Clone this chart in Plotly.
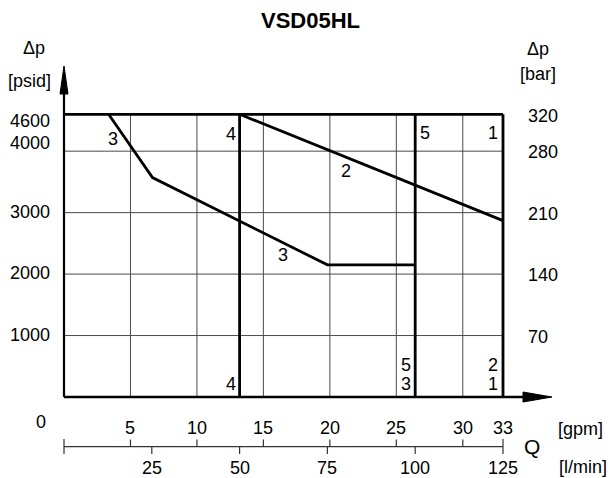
import plotly.graph_objects as go

# ---------------- data ----------------
GPM_TO_LPM = 3.785
q_max_lpm = 125
p_max_psi = 4600
gpm_grid = [5, 10, 15, 20, 25, 30]
gpm_ticks = [5, 10, 15, 20, 25, 30, 33]
lpm_ticks = [25, 50, 75, 100, 125]
psi_grid = [1000, 2000, 3000, 4000]
psi_ticks = [1000, 2000, 3000, 4000, 4600]
bar_ticks = [70, 140, 210, 280, 320]
curve2_q = [50, 125]
curve2_p = [4600, 2870]
curve3_q = [12.7, 25.2, 75, 100]
curve3_p = [4600, 3570, 2150, 2150]
limit_q = [50, 100, 125]          # lines 4, 5, 1

# ---------------- layout geometry ----------------
W, H = 613, 478
X0_PX, X1_PX = 64, 503
Y0_PX, Y1_PX = 397, 114.3
sx = (X1_PX - X0_PX) / q_max_lpm
sy = (Y0_PX - Y1_PX) / p_max_psi
xr = [-X0_PX / sx, (W - X0_PX) / sx]
yr = [-(H - Y0_PX) / sy, Y0_PX / sy]


def X(px):
    return (px - X0_PX) / sx


def Y(py):
    return (Y0_PX - py) / sy


FONT = "Liberation Sans, Arial, sans-serif"
FS = 18
THIN = dict(color="#4a4a4a", width=1)
THICK = dict(color="black", width=2.8)

fig = go.Figure()


def seg(xs, ys, line):
    fig.add_trace(go.Scatter(x=xs, y=ys, mode="lines", line=line,
                             hoverinfo="skip", showlegend=False))


# thin grid
gx, gy = [], []
for g in gpm_grid:
    q = g * GPM_TO_LPM
    gx += [q, q, None]
    gy += [0, p_max_psi, None]
for p in psi_grid:
    gx += [0, q_max_lpm, None]
    gy += [p, p, None]
seg(gx, gy, THIN)

# frame lines
seg([0, q_max_lpm], [p_max_psi, p_max_psi], THICK)
for q in limit_q:
    seg([q, q], [0, p_max_psi], THICK)
# axes
seg([0, 0], [0, Y(90)], dict(color="black", width=2.2))
seg([0, X(528)], [0, 0], dict(color="black", width=2.6))
# arrow heads
fig.add_trace(go.Scatter(x=[X(60), X(64), X(68), X(60)], y=[Y(94), Y(66), Y(94), Y(94)],
                         mode="lines", fill="toself", fillcolor="black",
                         line=dict(color="black", width=1), hoverinfo="skip", showlegend=False))
fig.add_trace(go.Scatter(x=[X(523), X(552), X(523), X(523)], y=[Y(392), Y(397), Y(402), Y(392)],
                         mode="lines", fill="toself", fillcolor="black",
                         line=dict(color="black", width=1), hoverinfo="skip", showlegend=False))

# curves
seg(curve2_q, curve2_p, THICK)
seg(curve3_q, curve3_p, THICK)

# secondary Q axis (l/min) with gpm ticks above, l/min ticks below
ya = Y(446.7)
AX = dict(color="#333333", width=1.2)
seg([0, q_max_lpm], [ya, ya], AX)
tx, ty = [], []
for q in [0, q_max_lpm]:
    tx += [q, q, None]
    ty += [Y(439), Y(454), None]
for g in gpm_grid:
    q = g * GPM_TO_LPM
    tx += [q, q, None]
    ty += [Y(439.5), ya, None]
for q in lpm_ticks[:-1]:
    tx += [q, q, None]
    ty += [ya, Y(454), None]
seg(tx, ty, AX)

ann = []


def txt(x, y, s, size=FS, xanchor="center", xref="x", yref="y", **kw):
    ann.append(dict(x=x, y=y, xref=xref, yref=yref, text=s, showarrow=False,
                    xanchor=xanchor, yanchor="middle",
                    font=dict(family=FONT, size=size, color="black"), **kw))


# left psi tick labels
left_shift = {4600: -7, 4000: 8}
for p in psi_ticks:
    txt(X(52), p, str(p), xanchor="right", yshift=left_shift.get(p, 1))
# right bar tick labels (aligned with the psi grid)
right_shift = {4600: -2, 4000: -1}
for p, b in zip(psi_ticks, bar_ticks):
    txt(X(526), p, str(b), xanchor="left", yshift=right_shift.get(p, -1))

# gpm labels
for g in gpm_ticks:
    txt(g * GPM_TO_LPM, Y(428), str(g))
# l/min labels
for q in lpm_ticks:
    txt(q, Y(468), str(q))
txt(X(41), Y(422), "0")
txt(X(556), Y(429), "[gpm]", xanchor="left")
txt(X(532), Y(446), "Q", size=21)
txt(X(557), Y(467), "[l/min]", xanchor="left")

# axis titles
txt(X(34), Y(48), "Δp")
txt(X(29), Y(81), "[psid]")
txt(X(538), Y(49), "Δp")
txt(X(538), Y(74), "[bar]")

# curve labels
for s, px, py in [("3", 113, 139), ("4", 231, 134), ("5", 425, 133), ("1", 493, 133),
                  ("2", 346, 171), ("3", 283, 255), ("4", 231, 384),
                  ("5", 406, 365), ("3", 406, 384), ("2", 493, 365), ("1", 493, 384)]:
    txt(X(px), Y(py), s)

# title
ann.append(dict(x=310 / W, y=1 - 21 / H, xref="paper", yref="paper", text="<b>VSD05HL</b>",
                showarrow=False, xanchor="center", yanchor="middle",
                font=dict(family="Liberation Sans, Arial, sans-serif",
                          size=22, color="black")))

fig.update_layout(
    width=W, height=H, margin=dict(l=0, r=0, t=0, b=0),
    paper_bgcolor="white", plot_bgcolor="white",
    xaxis=dict(range=xr, visible=False, fixedrange=True),
    yaxis=dict(range=yr, visible=False, fixedrange=True),
    annotations=ann, showlegend=False,
)
fig.write_html("out.html", config={"displayModeBar": False},
               post_script="document.body.style.margin='0';document.body.style.overflow='hidden';")
